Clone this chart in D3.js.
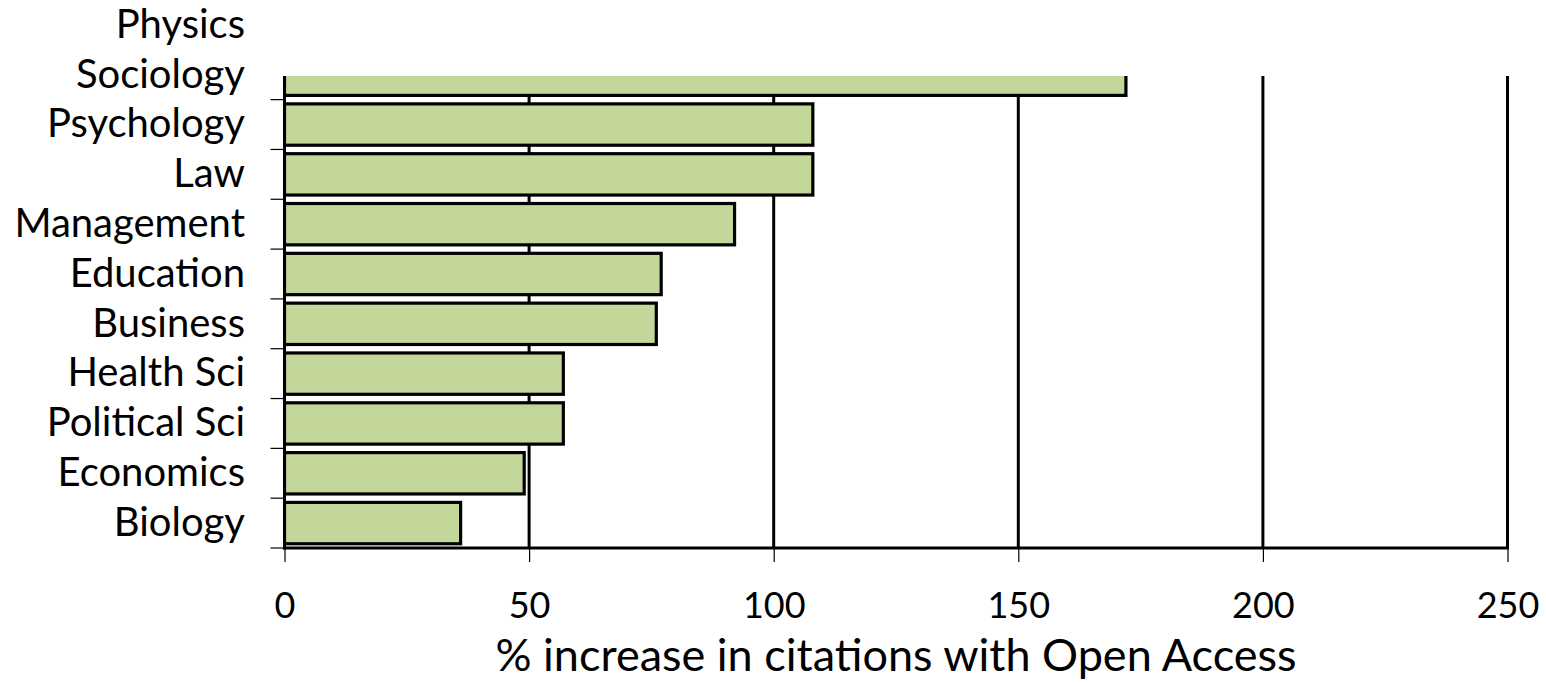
<!DOCTYPE html>
<html>
<head>
<meta charset="utf-8">
<script src="https://cdn.jsdelivr.net/npm/d3@7"></script>
<style>
  html, body { margin: 0; padding: 0; background: #fff; }
  svg { display: block; }
  text { font-family: Lato, "Open Sans", sans-serif; fill: #000; }
</style>
</head>
<body>
<svg id="chart" width="1546" height="683"></svg>
<script>
// Categories from top to bottom
const categories = ["Physics", "Sociology", "Psychology", "Law", "Management", "Education",
                    "Business", "Health Sci", "Political Sci", "Economics", "Biology"];
// % increase in citations with Open Access (Physics bar lies outside the plotted area)
const values = [250, 172, 108, 108, 92, 77, 76, 57, 57, 49, 36];
const xTicks = [0, 50, 100, 150, 200, 250];
const xTitle = "% increase in citations with Open Access";

const svg = d3.select("#chart");
const plot = { left: 284.5, right: 1507.5, top: 76, bottom: 548 };

const x = d3.scaleLinear().domain([0, 250]).range([plot.left, plot.right]);
const y = d3.scaleBand().domain(categories).range([0, plot.bottom])
  .paddingInner(0.17).paddingOuter(0.085);

svg.append("defs").append("clipPath").attr("id", "plotClip")
  .append("rect")
  .attr("x", plot.left).attr("y", plot.top)
  .attr("width", plot.right - plot.left + 2).attr("height", plot.bottom - plot.top);

// vertical gridlines
svg.append("g").selectAll("line").data(xTicks.slice(1)).join("line")
  .attr("x1", d => x(d)).attr("x2", d => x(d))
  .attr("y1", plot.top).attr("y2", plot.bottom)
  .attr("stroke", "#000").attr("stroke-width", 3);

// bars
svg.append("g").attr("clip-path", "url(#plotClip)")
  .selectAll("rect").data(categories).join("rect")
  .attr("x", x(0))
  .attr("y", d => y(d))
  .attr("width", (d, i) => x(values[i]) - x(0))
  .attr("height", y.bandwidth())
  .attr("fill", "#c4d79b")
  .attr("stroke", "#000")
  .attr("stroke-width", 3.2);

// left category axis ticks at band boundaries
const step = y.step();
const boundaries = d3.range(2, categories.length + 1).map(i => plot.bottom - (categories.length - i) * step);
svg.append("g").selectAll("line").data(boundaries).join("line")
  .attr("x1", plot.left - 14).attr("x2", plot.left)
  .attr("y1", d => d).attr("y2", d => d)
  .attr("stroke", "#000").attr("stroke-width", 1.2);

// category labels
svg.append("g").selectAll("text").data(categories).join("text")
  .attr("x", 245)
  .attr("y", d => y(d) + y.bandwidth() / 2)
  .attr("dy", "0.32em")
  .attr("text-anchor", "end")
  .attr("font-size", 40)
  .text(d => d);

// left axis line
svg.append("line")
  .attr("x1", plot.left).attr("x2", plot.left)
  .attr("y1", plot.top).attr("y2", plot.bottom + 1.5)
  .attr("stroke", "#000").attr("stroke-width", 3);

// bottom axis
const xAxis = d3.axisBottom(x).tickValues(xTicks).tickSize(14).tickPadding(30)
  .tickFormat(d3.format("d"));
const gx = svg.append("g").attr("transform", `translate(0,${plot.bottom})`).call(xAxis);
gx.select(".domain").remove();
gx.selectAll(".tick line").attr("stroke", "#000").attr("stroke-width", 1.2);
gx.selectAll(".tick text").attr("font-size", 36).attr("font-family", "Lato, 'Open Sans', sans-serif")
  .attr("fill", "#000");
svg.append("line")
  .attr("x1", plot.left - 1.5).attr("x2", plot.right + 1.5)
  .attr("y1", plot.bottom).attr("y2", plot.bottom)
  .attr("stroke", "#000").attr("stroke-width", 3);

// axis title
svg.append("text")
  .attr("x", (plot.left + plot.right) / 2)
  .attr("y", 671)
  .attr("text-anchor", "middle")
  .attr("font-size", 45)
  .text(xTitle);
</script>
</body>
</html>
